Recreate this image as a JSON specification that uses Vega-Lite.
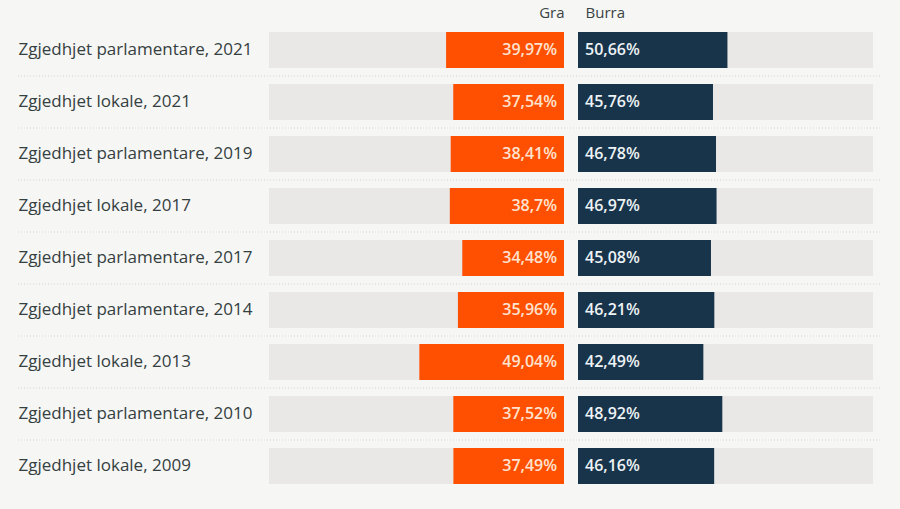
{
  "$schema": "https://vega.github.io/schema/vega-lite/v6.json",
  "width": 900,
  "height": 509,
  "autosize": "none",
  "padding": 0,
  "background": "#f6f6f5",
  "config": {
    "view": {"stroke": null},
    "locale": {
      "number": {"decimal": ",", "thousands": ".", "grouping": [3], "currency": ["", "%"]},
      "time": {"dateTime": "%x, %X", "date": "%d.%m.%Y", "time": "%H:%M:%S", "periods": ["AM", "PM"], "days": ["e diel", "e hënë", "e martë", "e mërkurë", "e enjte", "e premte", "e shtunë"], "shortDays": ["Die", "Hën", "Mar", "Mër", "Enj", "Pre", "Sht"], "months": ["janar", "shkurt", "mars", "prill", "maj", "qershor", "korrik", "gusht", "shtator", "tetor", "nëntor", "dhjetor"], "shortMonths": ["Jan", "Shk", "Mar", "Pri", "Maj", "Qer", "Kor", "Gus", "Sht", "Tet", "Nën", "Dhj"]}
    }
  },
  "data": {
    "values": [
      {"label": "Zgjedhjet parlamentare, 2021", "gra": 39.97, "burra": 50.66},
      {"label": "Zgjedhjet lokale, 2021", "gra": 37.54, "burra": 45.76},
      {"label": "Zgjedhjet parlamentare, 2019", "gra": 38.41, "burra": 46.78},
      {"label": "Zgjedhjet lokale, 2017", "gra": 38.7, "burra": 46.97},
      {"label": "Zgjedhjet parlamentare, 2017", "gra": 34.48, "burra": 45.08},
      {"label": "Zgjedhjet parlamentare, 2014", "gra": 35.96, "burra": 46.21},
      {"label": "Zgjedhjet lokale, 2013", "gra": 49.04, "burra": 42.49},
      {"label": "Zgjedhjet parlamentare, 2010", "gra": 37.52, "burra": 48.92},
      {"label": "Zgjedhjet lokale, 2009", "gra": 37.49, "burra": 46.16}
    ]
  },
  "encoding": {
    "y": {
      "field": "label",
      "type": "nominal",
      "sort": null,
      "scale": {"range": [32, 484], "paddingInner": 0.3077, "paddingOuter": 0},
      "axis": {
        "title": null,
        "domain": false,
        "ticks": false,
        "grid": false,
        "labelAlign": "left",
        "labelPadding": -18,
        "labelFont": "Open Sans",
        "labelFontSize": 17,
        "labelColor": "#34403f",
        "labelLimit": 400
      }
    }
  },
  "layer": [
    {
      "transform": [{"filter": "datum.label !== 'Zgjedhjet lokale, 2009'"}],
      "mark": {"type": "rule", "color": "#d4d4d4", "strokeWidth": 1, "strokeDash": [1, 2], "yOffset": 8},
      "encoding": {
        "y": {"field": "label", "type": "nominal", "sort": null, "bandPosition": 1},
        "x": {"datum": 0, "type": "quantitative", "scale": {"domain": [0, 100], "range": [18, 880]}, "axis": null},
        "x2": {"datum": 100}
      }
    },
    {
      "mark": {"type": "bar", "color": "#e9e8e7"},
      "encoding": {
        "x": {"datum": 0, "type": "quantitative", "scale": {"domain": [0, 100], "range": [564, 269]}, "axis": null},
        "x2": {"datum": 100}
      }
    },
    {
      "mark": {"type": "bar", "color": "#fe5000"},
      "encoding": {
        "x": {
          "field": "gra", "type": "quantitative",
          "scale": {"domain": [0, 100], "range": [564, 269]},
          "axis": {"orient": "top", "offset": -20, "domain": false, "ticks": false, "labels": false, "grid": false, "title": "Gra", "titleAnchor": "start", "titleAlign": "right", "titleFont": "Open Sans", "titleFontSize": 15, "titleFontWeight": "normal", "titleColor": "#3a4444", "titlePadding": 0}
        },
        "x2": {"datum": 0}
      }
    },
    {
      "mark": {"type": "text", "align": "right", "dx": -7, "font": "Open Sans", "fontSize": 16, "fontWeight": 600, "color": "#ffe3d0"},
      "encoding": {
        "x": {"datum": 0, "type": "quantitative", "scale": {"domain": [0, 100], "range": [564, 269]}, "axis": null},
        "text": {"field": "gra", "type": "quantitative", "format": "$.2~f"}
      }
    },
    {
      "mark": {"type": "bar", "color": "#e9e8e7"},
      "encoding": {
        "x": {"datum": 0, "type": "quantitative", "scale": {"domain": [0, 100], "range": [578, 873]}, "axis": null},
        "x2": {"datum": 100}
      }
    },
    {
      "mark": {"type": "bar", "color": "#17344a"},
      "encoding": {
        "x": {
          "field": "burra", "type": "quantitative",
          "scale": {"domain": [0, 100], "range": [578, 873]},
          "axis": {"orient": "top", "offset": -20, "domain": false, "ticks": false, "labels": false, "grid": false, "title": "Burra", "titleX": 585, "titleAlign": "left", "titleFont": "Open Sans", "titleFontSize": 15, "titleFontWeight": "normal", "titleColor": "#3a4444", "titlePadding": 0}
        },
        "x2": {"datum": 0}
      }
    },
    {
      "mark": {"type": "text", "align": "left", "dx": 7, "font": "Open Sans", "fontSize": 16, "fontWeight": 600, "color": "#eef3f6"},
      "encoding": {
        "x": {"datum": 0, "type": "quantitative", "scale": {"domain": [0, 100], "range": [578, 873]}, "axis": null},
        "text": {"field": "burra", "type": "quantitative", "format": "$.2~f"}
      }
    }
  ],
  "resolve": {"scale": {"x": "independent"}, "axis": {"x": "independent"}}
}
